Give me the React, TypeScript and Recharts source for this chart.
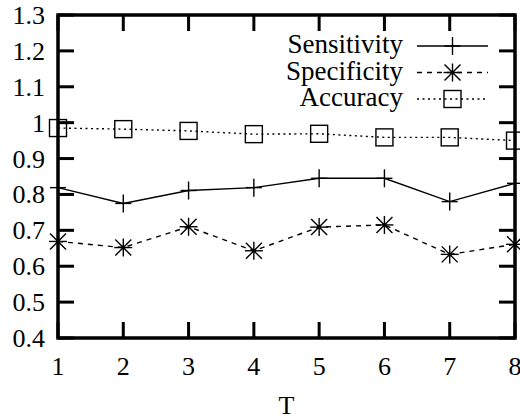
import React from 'react';
import { LineChart, Line, XAxis, YAxis, Legend } from 'recharts';

const tValues = [1, 2, 3, 4, 5, 6, 7, 8];
const sensitivity = [0.819, 0.775, 0.811, 0.819, 0.845, 0.845, 0.780, 0.831];
const specificity = [0.669, 0.652, 0.710, 0.643, 0.709, 0.715, 0.633, 0.661];
const accuracy = [0.985, 0.982, 0.977, 0.968, 0.969, 0.959, 0.959, 0.950];
const yTicks = [0.4, 0.5, 0.6, 0.7, 0.8, 0.9, 1.0, 1.1, 1.2, 1.3];
const seriesNames = ['Sensitivity', 'Specificity', 'Accuracy'];

const data = tValues.map((t, i) => ({
  t,
  sensitivity: sensitivity[i],
  specificity: specificity[i],
  accuracy: accuracy[i],
}));

const W = 520;
const H = 419;
const M = { top: 15, right: 5, left: 0, bottom: 0 };
const Y_AXIS_W = 58;
const X_AXIS_H = 81;
const PLOT_W = W - M.left - M.right - Y_AXIS_W;
const PLOT_H = H - M.top - M.bottom - X_AXIS_H;
const TICK = 16;
const FONT = 'Liberation Serif';
const LW = 1.4;

const PlusMark = ({ cx, cy }: any) => (
  <g stroke="#000" strokeWidth={LW}>
    <line x1={cx - 8} y1={cy} x2={cx + 8} y2={cy} />
    <line x1={cx} y1={cy - 9} x2={cx} y2={cy + 9} />
  </g>
);

const StarMark = ({ cx, cy }: any) => (
  <g stroke="#000" strokeWidth={LW}>
    <line x1={cx - 9} y1={cy} x2={cx + 9} y2={cy} />
    <line x1={cx} y1={cy - 9} x2={cx} y2={cy + 9} />
    <line x1={cx - 8} y1={cy - 8} x2={cx + 8} y2={cy + 8} />
    <line x1={cx - 8} y1={cy + 8} x2={cx + 8} y2={cy - 8} />
    <circle cx={cx} cy={cy} r={2} fill="#000" stroke="none" />
  </g>
);

const SquareMark = ({ cx, cy }: any) => (
  <rect x={cx - 8.5} y={cy - 8.5} width={17} height={17} fill="none" stroke="#000" strokeWidth={LW} />
);

const XTick = (props: any) => {
  const { x, y, payload, index } = props;
  return (
    <g>
      {index === 0 && (
        <rect x={x} y={y - PLOT_H} width={PLOT_W} height={PLOT_H} fill="none" stroke="#000" strokeWidth={3.5} />
      )}
      <line x1={x} y1={y} x2={x} y2={y - TICK} stroke="#000" strokeWidth={3} />
      <line x1={x} y1={y - PLOT_H} x2={x} y2={y - PLOT_H + TICK} stroke="#000" strokeWidth={3} />
      <text x={x} y={y + 37} textAnchor="middle" fontFamily={FONT} fontSize={26} fill="#000">
        {String(payload.value)}
      </text>
    </g>
  );
};

const YTick = (props: any) => {
  const { x, y, payload } = props;
  const label = String(Number(payload.value.toFixed(1)));
  return (
    <g>
      <line x1={x} y1={y} x2={x + TICK} y2={y} stroke="#000" strokeWidth={3} />
      <line x1={x + PLOT_W} y1={y} x2={x + PLOT_W - TICK} y2={y} stroke="#000" strokeWidth={3} />
      <text x={x - 13} y={y + 9} textAnchor="end" fontFamily={FONT} fontSize={26} fill="#000">
        {label}
      </text>
    </g>
  );
};

const legendStyles = [
  { dash: undefined as string | undefined, Mark: PlusMark },
  { dash: '5 5', Mark: StarMark },
  { dash: '2 3.5', Mark: SquareMark },
];

const LegendContent = () => (
  <svg width={230} height={90} style={{ overflow: 'visible' }}>
    {seriesNames.map((name, i) => {
      const y = 16 + i * 26.5;
      const { dash, Mark } = legendStyles[i];
      return (
        <g key={name}>
          <text x={123} y={y + 7} textAnchor="end" fontFamily={FONT} fontSize={27} fill="#000">
            {name}
          </text>
          <line x1={137} y1={y} x2={208} y2={y} stroke="#000" strokeWidth={LW} strokeDasharray={dash} />
          <Mark cx={172.5} cy={y} />
        </g>
      );
    })}
  </svg>
);

const TLabel = (props: any) => {
  const { viewBox } = props;
  const cx = viewBox.x + viewBox.width / 2;
  return (
    <text x={cx} y={414} textAnchor="middle" fontFamily={FONT} fontSize={26} fill="#000">
      T
    </text>
  );
};

export default function App() {
  return (
    <div style={{ position: 'absolute', left: 0, top: 0, width: W, height: H, background: '#fff' }}>
      <LineChart width={W} height={H} data={data} margin={M}>
        <XAxis
          dataKey="t"
          type="number"
          domain={[1, 8]}
          ticks={tValues}
          axisLine={false}
          tickLine={false}
          tickSize={0}
          tickMargin={0}
          height={X_AXIS_H}
          tick={<XTick />}
          interval={0}
          label={<TLabel />}
        />
        <YAxis
          type="number"
          domain={[0.4, 1.3]}
          ticks={yTicks}
          axisLine={false}
          tickLine={false}
          tickSize={0}
          tickMargin={0}
          width={Y_AXIS_W}
          tick={<YTick />}
          interval={0}
        />
        <Line dataKey="sensitivity" name={seriesNames[0]} stroke="#000" strokeWidth={LW} dot={<PlusMark />} activeDot={false} isAnimationActive={false} />
        <Line dataKey="specificity" name={seriesNames[1]} stroke="#000" strokeWidth={LW} strokeDasharray="5 5" dot={<StarMark />} activeDot={false} isAnimationActive={false} />
        <Line dataKey="accuracy" name={seriesNames[2]} stroke="#000" strokeWidth={LW} strokeDasharray="2 3.5" dot={<SquareMark />} activeDot={false} isAnimationActive={false} />
        <Legend
          layout="vertical"
          align="center"
          verticalAlign="middle"
          content={<LegendContent />}
          wrapperStyle={{ left: 280, top: 30, width: 230, height: 90 }}
        />
      </LineChart>
    </div>
  );
}
